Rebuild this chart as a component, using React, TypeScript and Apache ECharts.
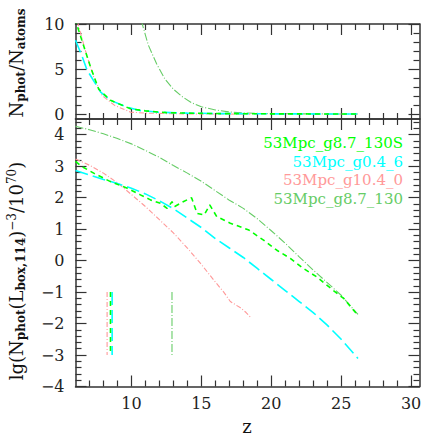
import React, { useEffect, useRef } from "react";
import * as echarts from "echarts";

// ---------- names & colours ----------
const seriesNames = ["53Mpc_g8.7_130S", "53Mpc_g0.4_6", "53Mpc_g10.4_0", "53Mpc_g8.7_130"];
const seriesColors = ["#00ff00", "#00ffff", "#ff9999", "#66cc66"];

// ---------- top panel: N_phot / N_atoms ----------
const topZ_130S = [6.0, 6.1, 6.6, 7.07, 7.66, 8.5, 9.93, 11, 12.5, 14, 16, 20, 26.2];
const topV_130S = [10.6, 9.9, 7.5, 5.26, 2.8, 1.56, 0.63, 0.4, 0.2, 0.15, 0.1, 0.07, 0.05];
const topZ_g04 = [6.0, 6.48, 6.83, 7.8, 8.5, 9.7, 10.6, 12, 14, 16, 20, 26.2];
const topV_g04 = [8.2, 6.4, 4.9, 2.48, 1.56, 0.81, 0.44, 0.25, 0.15, 0.1, 0.07, 0.05];
const topZ_g104 = [6.15, 6.2, 6.7, 7.3, 7.9, 8.8, 9.93, 11, 13, 15, 18.5];
const topV_g104 = [10.3, 9.9, 7.1, 4.15, 2.1, 1.0, 0.26, 0.15, 0.08, 0.05, 0.04];
const topZ_g87 = [10.7, 11.2, 11.8, 12.4, 13, 13.6, 14.3, 15, 16, 17, 18, 19, 20, 22, 24, 26.2];
const topV_g87 = [10.4, 7.7, 5.6, 3.9, 2.8, 2.0, 1.3, 0.85, 0.5, 0.28, 0.17, 0.12, 0.09, 0.07, 0.06, 0.05];

// ---------- bottom panel: lg(N_phot (L_box)^-3 / 1e70) ----------
const botZ_130S = [6, 6.5, 7.3, 8.5, 9.7, 10.64, 11.36, 12.07, 12.55, 12.9, 13.1, 13.7, 14.3, 14.7, 15.2, 15.6, 16.1, 17.07, 18.4, 19.45, 20.4, 21.36, 22.3, 23.26, 24.45, 25.2, 26.1];
const botV_130S = [3.15, 2.98, 2.78, 2.51, 2.3, 2.09, 1.93, 1.82, 1.66, 1.87, 1.72, 1.87, 2.0, 1.5, 1.45, 1.77, 1.4, 1.19, 0.97, 0.65, 0.33, 0.07, -0.25, -0.52, -0.95, -1.21, -1.69];
const botZ_g04 = [6, 7, 8, 9, 10, 11, 12, 13, 14, 15, 16, 17, 18, 19, 20, 21, 22, 23, 24, 25, 26.2];
const botV_g04 = [2.86, 2.72, 2.58, 2.45, 2.3, 2.12, 1.9, 1.65, 1.35, 1.05, 0.7, 0.4, 0.1, -0.25, -0.6, -0.95, -1.3, -1.65, -2.05, -2.5, -3.11];
const botZ_g104 = [6, 7, 8, 9, 10, 11, 12, 13, 14, 15, 16, 16.6, 17.07, 17.5, 17.8, 18.2, 18.55];
const botV_g104 = [3.23, 3.03, 2.78, 2.47, 2.1, 1.72, 1.3, 0.88, 0.4, -0.12, -0.68, -1.0, -1.3, -1.42, -1.5, -1.65, -1.82];
const botZ_g87 = [6, 7, 8, 9, 10, 11, 12, 13, 14, 15, 16, 17, 18, 19, 20, 21, 22, 23, 24, 25, 26.2];
const botV_g87 = [4.27, 4.16, 4.03, 3.88, 3.71, 3.5, 3.28, 3.02, 2.78, 2.52, 2.22, 1.92, 1.66, 1.33, 0.95, 0.55, 0.12, -0.3, -0.7, -1.1, -1.71];

// vertical markers (z position of each model), spanning lg = -1 .. -3
const markerZ = [8.5, 8.62, 8.26, 12.9];
const markerRange = [-1, -3];

// ---------- ticks ----------
const xMajor = [10, 15, 20, 25, 30];
const xMinor = [7, 8, 9, 11, 12, 13, 14, 16, 17, 18, 19, 21, 22, 23, 24, 26, 27, 28, 29];
const topYMajor = [0, 5, 10];
const topYMinor = [1, 2, 3, 4, 6, 7, 8, 9];
const botYMajor = [-4, -3, -2, -1, 0, 1, 2, 3, 4];
const botYMinor = [-3.8, -3.6, -3.4, -3.2, -2.8, -2.6, -2.4, -2.2, -1.8, -1.6, -1.4, -1.2, -0.8, -0.6, -0.4, -0.2, 0.2, 0.4, 0.6, 0.8, 1.2, 1.4, 1.6, 1.8, 2.2, 2.4, 2.6, 2.8, 3.2, 3.4, 3.6, 3.8, 4.2, 4.4];

const X_MIN = 6, X_MAX = 30.6;
const TOP_MIN = -0.5, TOP_MAX = 10;
const BOT_MIN = -4, BOT_MAX = 4.5;

const FONT = "DejaVu Serif";
const AX = "#333333";

const lineTypes: any[] = [[5, 4], [13, 5], [5, 2, 1, 2], [8, 2, 1, 2]];
const lineWidths = [1.6, 1.6, 1.1, 1.1];

function pairs(z: number[], v: number[]) {
  return z.map((x, i) => [x, v[i]]);
}

function fmt(v: number) {
  return v < 0 ? "\u2212" + Math.abs(v) : String(v);
}

function makeAxis(dim: "x" | "y", grid: number, pos: string, min: number, max: number, ticks: number[], len: number, line: boolean, labels: boolean) {
  return {
    type: "value",
    gridIndex: grid,
    position: pos,
    min,
    max,
    axisLine: { show: line, onZero: false, lineStyle: { color: AX, width: 1.5 } },
    axisTick: { show: true, inside: true, length: len, customValues: ticks, lineStyle: { color: AX, width: 1.2 } },
    axisLabel: labels
      ? {
          show: true,
          customValues: ticks,
          formatter: (v: number) => fmt(v),
          fontFamily: FONT,
          fontSize: 16,
          color: "#222",
          margin: dim === "x" ? 9 : 11,
        }
      : { show: false },
    splitLine: { show: false },
    minorTick: { show: false },
  };
}

export default function App() {
  const ref = useRef<HTMLDivElement>(null);

  useEffect(() => {
    if (!ref.current) return;
    const chart = echarts.init(ref.current, null, { renderer: "svg" });

    const grids = [
      { left: 75.5, right: 23.5, top: 24, height: 95 },
      { left: 75.5, right: 23.5, top: 119, height: 267.5 },
    ];

    const xAxis: any[] = [];
    const yAxis: any[] = [];
    [0, 1].forEach((g) => {
      const bottomLabels = g === 1;
      xAxis.push(makeAxis("x", g, "bottom", X_MIN, X_MAX, xMajor, 11, true, bottomLabels));
      xAxis.push(makeAxis("x", g, "bottom", X_MIN, X_MAX, xMinor, 6, false, false));
      xAxis.push(makeAxis("x", g, "top", X_MIN, X_MAX, xMajor, 11, true, false));
      xAxis.push(makeAxis("x", g, "top", X_MIN, X_MAX, xMinor, 6, false, false));
      const ymin = g === 0 ? TOP_MIN : BOT_MIN;
      const ymax = g === 0 ? TOP_MAX : BOT_MAX;
      const maj = g === 0 ? topYMajor : botYMajor;
      const mnr = g === 0 ? topYMinor : botYMinor;
      yAxis.push(makeAxis("y", g, "left", ymin, ymax, maj, 11, true, true));
      yAxis.push(makeAxis("y", g, "left", ymin, ymax, mnr, 6, false, false));
      yAxis.push(makeAxis("y", g, "right", ymin, ymax, maj, 11, true, false));
      yAxis.push(makeAxis("y", g, "right", ymin, ymax, mnr, 6, false, false));
    });

    const topData = [pairs(topZ_130S, topV_130S), pairs(topZ_g04, topV_g04), pairs(topZ_g104, topV_g104), pairs(topZ_g87, topV_g87)];
    const botData = [pairs(botZ_130S, botV_130S), pairs(botZ_g04, botV_g04), pairs(botZ_g104, botV_g104), pairs(botZ_g87, botV_g87)];

    const mkSeries = (name: string, data: any[], i: number, g: number) => ({
      name,
      type: "line",
      xAxisIndex: g * 4,
      yAxisIndex: g * 4,
      data,
      symbol: "none",
      showSymbol: false,
      clip: true,
      z: 10 - i,
      lineStyle: { color: seriesColors[i], width: lineWidths[i], type: lineTypes[i] },
    });

    const series: any[] = [];
    [3, 2, 1, 0].forEach((i) => {
      series.push(mkSeries(seriesNames[i], topData[i], i, 0));
      series.push(mkSeries(seriesNames[i], botData[i], i, 1));
      series.push(mkSeries(seriesNames[i], [[markerZ[i], markerRange[0]], [markerZ[i], markerRange[1]]], i, 1));
    });

    const legendY = [143, 162, 180, 199];
    const graphic: any[] = seriesNames.map((n, i) => ({
      type: "text",
      x: 403,
      y: legendY[i],
      style: {
        text: n,
        fill: seriesColors[i],
        fontFamily: FONT,
        fontSize: 15,
        textAlign: "right",
        textVerticalAlign: "middle",
        align: "right",
        verticalAlign: "middle",
      },
      z: 100,
    }));

    const big = { fontFamily: FONT, fontSize: 18, fill: "#111", lineHeight: 18 };
    const sub = { fontFamily: FONT, fontSize: 12, fontWeight: "bold", fill: "#111", lineHeight: 12, padding: [9, 0, 0, 0] };
    const sup = { fontFamily: FONT, fontSize: 12, fill: "#111", lineHeight: 12, padding: [0, 0, 9, 0] };

    graphic.push({
      type: "text",
      x: 16,
      y: 63,
      rotation: Math.PI / 2,
      style: {
        text: "{a|N}{s|phot}{a|/N}{s|atoms}",
        rich: { a: big, s: sub },
        textAlign: "center",
        textVerticalAlign: "middle",
        align: "center",
        verticalAlign: "middle",
      },
    });
    graphic.push({
      type: "text",
      x: 16,
      y: 271,
      rotation: Math.PI / 2,
      style: {
        text: "{a|lg(N}{s|phot}{a|(L}{s|box,114}{a|)}{p|\u22123}{a|/10}{p|70}{a|)}",
        rich: { a: big, s: sub, p: sup },
        textAlign: "center",
        textVerticalAlign: "middle",
        align: "center",
        verticalAlign: "middle",
      },
    });
    graphic.push({
      type: "text",
      x: 247,
      y: 426,
      style: {
        text: "z",
        fontFamily: FONT,
        fontSize: 18,
        fill: "#111",
        textAlign: "center",
        textVerticalAlign: "middle",
        align: "center",
        verticalAlign: "middle",
      },
    });

    chart.setOption({
      animation: false,
      backgroundColor: "#ffffff",
      grid: grids,
      xAxis,
      yAxis,
      series,
      graphic,
    });

    return () => chart.dispose();
  }, []);

  return <div ref={ref} style={{ position: "fixed", left: 0, top: 0, width: 443, height: 443 }} />;
}
